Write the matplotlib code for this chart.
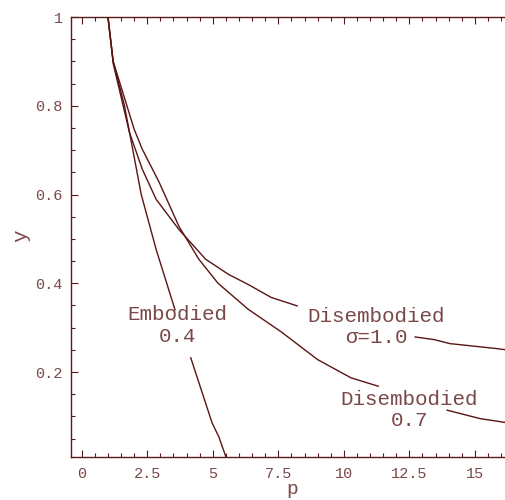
import numpy as np
import matplotlib
matplotlib.use("Agg")
import matplotlib.pyplot as plt
from matplotlib.ticker import MultipleLocator

# curves (p, y); nan = gap left for the label
p_emb = [1.0, 1.2, 1.63, 2.27, 2.84, 3.56, np.nan, 4.16, 4.97, 5.23, 5.5]
y_emb = [1.0, 0.90, 0.80, 0.60, 0.476, 0.34, np.nan, 0.232, 0.086, 0.054, 0.009]

p_d07 = [1.0, 1.2, 2.0, 2.31, 2.95, 3.71, 4.47, 5.2, 6.36, 7.6, 9.0, 10.27, 11.31,
         np.nan, 13.94, 15.2, 16.2]
y_d07 = [1.0, 0.90, 0.747, 0.702, 0.628, 0.528, 0.454, 0.40, 0.341, 0.291, 0.228, 0.187, 0.168,
         np.nan, 0.114, 0.095, 0.086]

p_d10 = [1.0, 1.2, 1.82, 2.31, 2.84, 3.71, 4.73, 5.6, 6.36, 7.23, 8.22,
         np.nan, 12.72, 13.45, 14.05, 15.8, 16.2]
y_d10 = [1.0, 0.895, 0.74, 0.657, 0.589, 0.521, 0.454, 0.42, 0.397, 0.368, 0.349,
         np.nan, 0.279, 0.273, 0.264, 0.253, 0.25]

xticks = [0, 2.5, 5, 7.5, 10, 12.5, 15]
xticklabels = ["0", "2.5", "5", "7.5", "10", "12.5", "15"]
yticks = [0.2, 0.4, 0.6, 0.8, 1.0]
yticklabels = ["0.2", "0.4", "0.6", "0.8", "1"]

line_c = "#5a1414"
axis_c = "#5b1a1a"
text_c = "#7a4848"
mono = "Liberation Mono"

fig = plt.figure(figsize=(5.05, 5.0), dpi=100)
ax = fig.add_axes([0.1406, 0.086, 0.8594, 0.880])

for px, py in [(p_emb, y_emb), (p_d07, y_d07), (p_d10, y_d10)]:
    ax.plot(px, py, color=line_c, lw=1.0)

ax.set_xlim(-0.41, 16.15)
ax.set_ylim(0.0085, 1.0)

ax.set_xticks(xticks)
ax.set_xticklabels(xticklabels)
ax.set_yticks(yticks)
ax.set_yticklabels(yticklabels)
ax.xaxis.set_minor_locator(MultipleLocator(0.5))
ax.yaxis.set_minor_locator(MultipleLocator(0.05))
ax.tick_params(which="both", direction="in", top=True, right=False,
               color=axis_c, labelcolor=text_c, labelsize=11, pad=6)
ax.tick_params(axis="x", which="major", pad=7)
ax.tick_params(which="major", length=5, width=0.8)
ax.tick_params(which="minor", length=3, width=0.8)
for lab in ax.get_xticklabels() + ax.get_yticklabels():
    lab.set_fontfamily(mono)

for s in ["left", "bottom", "top"]:
    ax.spines[s].set_color(axis_c)
    ax.spines[s].set_linewidth(1.0)
ax.spines["right"].set_visible(False)

ax.set_xlabel("p", fontfamily=mono, fontsize=14, color=text_c, va="center")
ax.xaxis.set_label_coords(0.509, -0.0735)
ax.set_ylabel("y", fontfamily=mono, fontsize=15, color=text_c, va="center")
ax.yaxis.set_label_coords(-0.115, 0.502)

lab_kw = dict(fontfamily=mono, fontsize=15, color=text_c, ha="center", va="center",
              linespacing=1.15)
ax.text(3.66, 0.305, "Embodied\n0.4", **lab_kw)
ax.text(11.25, 0.302, "Disembodied\n\u03c3=1.0", **lab_kw)
ax.text(12.5, 0.114, "Disembodied\n0.7", **lab_kw)

fig.savefig("out.png", dpi=100)
